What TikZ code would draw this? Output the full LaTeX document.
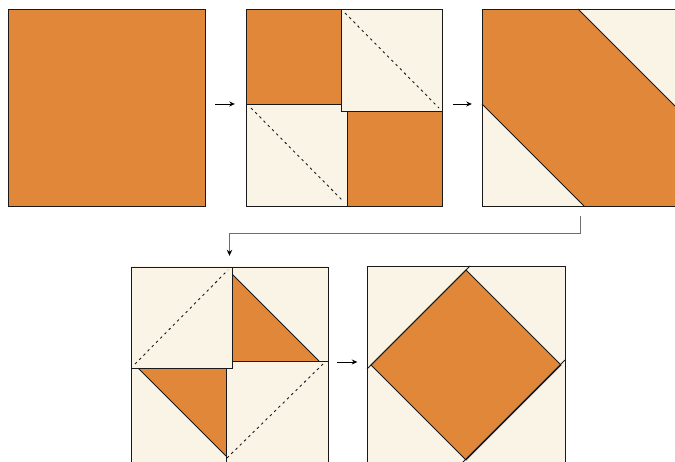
\documentclass[tikz,border=0pt]{standalone}
\usetikzlibrary{arrows.meta,calc}
\definecolor{fabric}{RGB}{225,135,57}
\definecolor{creamy}{RGB}{250,244,231}
\definecolor{seam}{RGB}{25,25,25}
\definecolor{conngrey}{RGB}{110,110,110}
\begin{document}
\begin{tikzpicture}[x=1pt,y=-1pt,
  panelbox/.style={draw=none,inner sep=0pt,minimum width=197pt,minimum height=197pt},
  orng/.style={fill=fabric,draw=seam,line width=0.9pt},
  crm/.style={fill=creamy,draw=seam,line width=0.9pt},
  seamline/.style={draw=seam,line width=0.9pt},
  stitch/.style={draw=seam,line width=0.9pt,dash pattern=on 2.5pt off 3.5pt},
  arr/.style={draw=black,line width=0.8pt,-{Stealth[length=5.5pt,width=5pt]}},
  conn/.style={draw=conngrey,line width=1pt,-{Stealth[length=6pt,width=5.5pt,color=black]}}]
\useasboundingbox (0,0) rectangle (675,462);
\fill[white] (0,0) rectangle (675,462);

% panel anchors
\node[panelbox] (p1) at (106.5,107.5) {};
\node[panelbox] (p2) at (344.5,107.5) {};
\node[panelbox] (p3) at (580.5,107.5) {};
\node[panelbox] (p4) at (229.5,364.5) {};
\node[panelbox] (p5) at (466,364.5) {};

% panel 1
\draw[orng] (8,9) rectangle (205,206);

% panel 2
\draw[orng] (246,9) rectangle (343,106);
\draw[orng] (345,108) rectangle (442,206);
\draw[crm] (246,104) rectangle (347,206);
\draw[crm] (341,9) rectangle (442,111);
\draw[stitch] (345,13) -- (439,108);
\draw[stitch] (251,108) -- (343,201);

% panel 3
\fill[fabric] (482,9) rectangle (679,206);
\fill[creamy] (578,9) -- (679,9) -- (679,110) -- cycle;
\fill[creamy] (482,104) -- (482,206) -- (584,206) -- cycle;
\draw[seamline] (578,9) -- (679,110);
\draw[seamline] (482,104) -- (584,206);
\draw[seamline] (482,9) rectangle (679,206);

% panel 4
\fill[creamy] (131,266) rectangle (328,463);
% top-right quadrant
\draw[crm] (232,267) rectangle (328,361);
\fill[fabric] (232,274) -- (232,361) -- (319,361) -- cycle;
\draw[seamline] (232,274) -- (319,361);
% bottom-left quadrant
\draw[crm] (131,368) rectangle (226,463);
\fill[fabric] (138,368) -- (226,368) -- (226,456) -- cycle;
\draw[seamline] (138,368) -- (226,456);
% bottom-right cream square
\draw[crm] (226,361) rectangle (328,463);
\draw[stitch] (227,458) -- (323,364);
% top-left cream square
\draw[crm] (131,267) rectangle (232,368);
\draw[stitch] (135,364) -- (228,270);

% panel 5
\draw[crm] (367,266) rectangle (565,463);
\draw[orng] (466,270) -- (561,365) -- (466,460) -- (371,365) -- cycle;
\draw[seamline] (367,369) -- (470,266);
\draw[seamline] (462,463) -- (565,360);

% arrows
\draw[arr] ($(p1.east)+(10,-3.5)$) -- ($(p2.west)+(-11,-3.5)$);
\draw[arr] ($(p2.east)+(10,-3.5)$) -- ($(p3.west)+(-10,-3.5)$);
\draw[arr] ($(p4.east)+(9,-2.5)$) -- ($(p5.west)+(-10,-2.5)$);
\draw[conn] ($(p3.south)+(0,10)$) -- ++(0,17) -| ($(p4.north)+(0,-10)$);
\end{tikzpicture}
\end{document}
